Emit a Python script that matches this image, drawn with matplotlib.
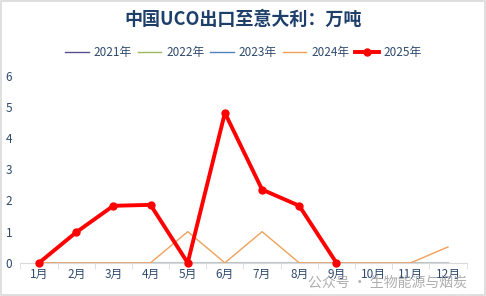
import matplotlib.pyplot as plt
import numpy as np

plt.rcParams['font.family'] = ['Noto Sans CJK SC', 'DejaVu Sans']

months = ['1月', '2月', '3月', '4月', '5月', '6月', '7月', '8月', '9月', '10月', '11月', '12月']
y2021 = [0, 0, 0, 0, 0, 0, 0, 0, 0, 0, 0, 0]
y2022 = [0, 0, 0, 0, 0, 0, 0, 0, 0, 0, 0, 0]
y2023 = [0, 0, 0, 0, 0, 0, 0, 0, 0, 0, 0, 0]
y2024 = [0, 0, 0, 0, 1.0, 0, 1.0, 0, 0, 0, 0, 0.51]
y2025 = [0, 0.98, 1.83, 1.86, 0, 4.81, 2.35, 1.83, 0]

text_c = '#2E4A6E'

fig = plt.figure(figsize=(4.86, 2.96), dpi=100)
ax = fig.add_axes([0.042, 0.112, 0.918, 0.632])

x = np.arange(len(months))
ax.plot(x, y2021, color='#5B4E8C', lw=1, label='2021年')
ax.plot(x, y2022, color='#9BBB59', lw=1, label='2022年')
ax.plot(x, y2023, color='#4F81BD', lw=1, label='2023年')
ax.plot(x, y2024, color='#F0A05A', lw=1, label='2024年')
ax.plot(np.arange(len(y2025)), y2025, color='#FF0000', lw=2.8, marker='o', ms=5,
        label='2025年', zorder=5, clip_on=False)

ax.set_xlim(-0.5, 11.5)
ax.set_ylim(0, 6)
ax.set_yticks(range(7))
ax.set_xticks(x)
ax.set_xticklabels(months)
ax.set_xticks(np.arange(-0.5, 12, 1), minor=True)
ax.tick_params(axis='x', which='major', length=0, labelsize=8.5, colors=text_c, pad=4)
ax.tick_params(axis='x', which='minor', length=4, color='#D9D9D9', direction='out')
ax.tick_params(axis='y', length=0, labelsize=8.5, colors=text_c, pad=6)
for s in ['top', 'right', 'left']:
    ax.spines[s].set_visible(False)
ax.spines['bottom'].set_color('#D9D9D9')

fig.text(0.5, 0.935, '中国UCO出口至意大利：万吨', ha='center', va='center',
         fontsize=13, fontweight='bold', color='#1F3F6B')
ax.legend(loc='center', bbox_to_anchor=(0.5, 1.125), ncol=5, frameon=False,
          fontsize=8.5, labelcolor=text_c, handlelength=2.0, columnspacing=0.5,
          handletextpad=0.4)

fig.text(0.96, 0.045, '公众号 · 生物能源与烟炭', ha='right', va='center',
         fontsize=10, color='#9A9A9A', alpha=0.8)

fig.patches.append(plt.Rectangle((0.002, 0.004), 0.995, 0.992, transform=fig.transFigure,
                                 fill=False, edgecolor='#D9D9D9', lw=1.2))

fig.savefig('out.png', dpi=100)
